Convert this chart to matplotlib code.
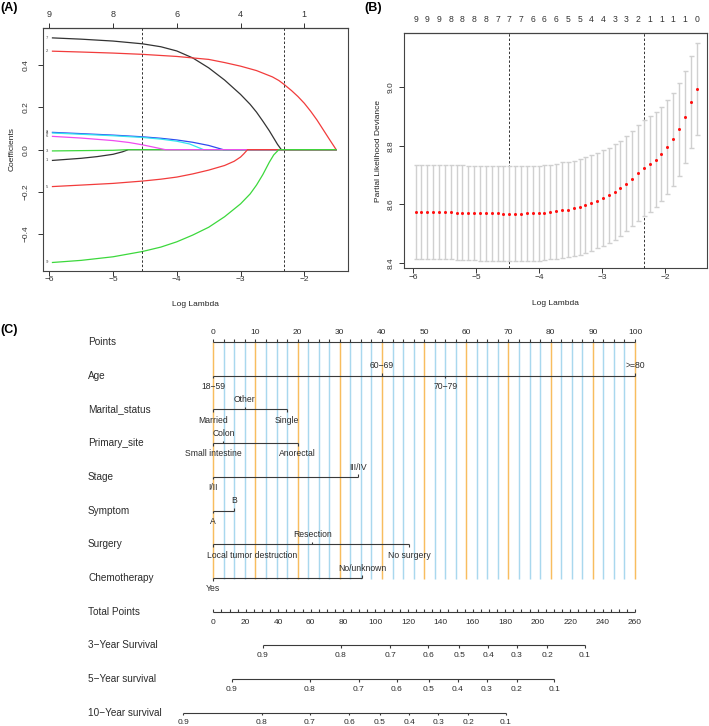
import numpy as np
import matplotlib.pyplot as plt

plt.rcParams['font.family'] = ['Liberation Sans', 'DejaVu Sans']

W, H = 709, 726

# ---------------- panel A: lasso coefficient paths ----------------
coef_7_x = [-5.95, -5.5, -5.0, -4.54, -4.25, -4.0, -3.75, -3.5, -3.25, -3.0, -2.85, -2.75,
            -2.65, -2.55, -2.47, -2.42, -2.36, -1.5]
coef_7_y = [0.530, 0.524, 0.515, 0.502, 0.488, 0.468, 0.435, 0.388, 0.330, 0.262, 0.215, 0.178,
            0.135, 0.090, 0.050, 0.025, 0.0, 0.0]
coef_2_x = [-5.95, -5.5, -5.0, -4.54, -4.0, -3.5, -3.25, -3.0, -2.75, -2.5, -2.4, -2.32, -2.2,
            -2.1, -2.0, -1.9, -1.8, -1.7, -1.6, -1.5]
coef_2_y = [0.467, 0.463, 0.458, 0.452, 0.442, 0.428, 0.413, 0.396, 0.375, 0.345, 0.328, 0.310,
            0.280, 0.252, 0.220, 0.182, 0.140, 0.093, 0.046, 0.0]
coef_8_x = [-5.95, -5.5, -5.0, -4.54, -4.25, -4.0, -3.75, -3.5, -3.27, -1.5]
coef_8_y = [0.082, 0.076, 0.069, 0.061, 0.054, 0.046, 0.035, 0.020, 0.0, 0.0]
coef_4_x = [-5.95, -5.5, -5.0, -4.54, -4.25, -4.0, -3.8, -3.58, -1.5]
coef_4_y = [0.079, 0.073, 0.066, 0.058, 0.050, 0.040, 0.027, 0.0, 0.0]
coef_1_x = [-5.95, -5.5, -5.25, -5.0, -4.85, -4.76, -1.5]
coef_1_y = [-0.051, -0.041, -0.033, -0.022, -0.010, 0.0, 0.0]
coef_3_x = [-5.95, -5.0, -4.76, -1.5]
coef_3_y = [-0.006, -0.003, 0.0, 0.0]
coef_6_x = [-5.95, -5.5, -5.0, -4.75, -4.54, -4.35, -4.18, -1.5]
coef_6_y = [0.063, 0.055, 0.043, 0.034, 0.023, 0.011, 0.0, 0.0]
coef_5_x = [-5.95, -5.5, -5.0, -4.54, -4.25, -4.0, -3.75, -3.5, -3.25, -3.1, -3.0, -2.95, -2.89, -1.5]
coef_5_y = [-0.175, -0.168, -0.160, -0.149, -0.140, -0.130, -0.115, -0.097, -0.075, -0.055,
            -0.035, -0.020, 0.0, 0.0]
coef_9_x = [-5.95, -5.5, -5.0, -4.54, -4.25, -4.0, -3.75, -3.5, -3.25, -3.0, -2.85, -2.75,
            -2.65, -2.55, -2.48, -2.40, -1.5]
coef_9_y = [-0.535, -0.525, -0.508, -0.483, -0.462, -0.437, -0.405, -0.368, -0.318, -0.257,
            -0.210, -0.168, -0.118, -0.060, -0.025, 0.0, 0.0]

A_top_ticks = [-6, -5, -4, -3, -2]
A_top_labels = ["9", "8", "6", "4", "1"]
lambda_min, lambda_1se = -4.54, -2.32

# ---------------- panel B: cross-validation curve ----------------
cv_mean = [8.575, 8.575, 8.574, 8.574, 8.574, 8.573,
           8.573, 8.572, 8.572, 8.571, 8.571,
           8.570, 8.570, 8.569, 8.569,
           8.568, 8.568, 8.568, 8.568, 8.569, 8.569,
           8.570, 8.572, 8.574, 8.577,
           8.580, 8.582, 8.586, 8.591, 8.598, 8.604, 8.613, 8.621, 8.631, 8.642,
           8.655, 8.671, 8.688, 8.707, 8.724, 8.738, 8.753, 8.772, 8.795, 8.822,
           8.856, 8.897, 8.948, 8.993]
cv_se = [0.161] * 11 + [0.162] * 14 + [0.163] * 16 + [0.161] * 3 + [0.159] * 2 + [0.157] * 3
cv_nzero = ["9", "9", "9", "8", "8", "8", "8", "7", "7", "7", "6", "6", "6",
            "5", "5", "4", "4", "3", "3", "2", "1", "1", "1", "1", "0"]
cv_loglam = np.linspace(-5.96, -1.50, len(cv_mean))   # glmnet lambda grid (even in log)
cv_min, cv_1se = -4.47, -2.33

# ---------------- panel C: nomogram ----------------
age_levels = ["18−59", "60−69", "70−79", ">=80"]
age_pts = [0, 40, 55, 100]
marital_levels = ["Married", "Other", "Single"]
marital_pts = [0, 7.5, 17.5]
site_levels = ["Small intestine", "Colon", "Anorectal"]
site_pts = [0, 2.4, 20]
stage_levels = ["I/II", "III/IV"]
stage_pts = [0, 34.4]
symptom_levels = ["A", "B"]
symptom_pts = [0, 5]
surgery_levels = ["Local tumor destruction", "Resection", "No surgery"]
surgery_pts = [0, 23.5, 46.5]
chemo_levels = ["Yes", "No/unknown"]
chemo_pts = [0, 35.3]

surv_probs = ["0.9", "0.8", "0.7", "0.6", "0.5", "0.4", "0.3", "0.2", "0.1"]
surv3_total = [30.5, 78.5, 109.0, 132.5, 151.7, 169.6, 187.1, 206.0, 229.2]
surv5_total = [11.3, 59.6, 89.8, 113.1, 132.8, 150.7, 168.6, 187.1, 210.1]
surv10_total = [-18.5, 29.8, 59.6, 83.9, 102.8, 120.8, 138.7, 157.2, 180.5]

row_names = ["Points", "Age", "Marital_status", "Primary_site", "Stage", "Symptom",
             "Surgery", "Chemotherapy", "Total Points", "3−Year Survival",
             "5−Year survival", "10−Year survival"]
MAX_TOTAL = 260

ORANGE = "#F8BD5E"
LBLUE = "#A9D8EE"
INK = "#2b2b2b"


def frac(x0, y0, x1, y1):
    """pixel box (top-left origin) -> figure fraction rect"""
    return [x0 / W, 1 - y1 / H, (x1 - x0) / W, (y1 - y0) / H]


def r_style(ax, ypad):
    for s in ax.spines.values():
        s.set_linewidth(0.8)
        s.set_color("#444444")
    ax.tick_params(axis="x", direction="out", length=3.3, width=0.7, pad=0.5,
                   labelsize=6, colors="#333333")
    ax.tick_params(axis="y", direction="out", length=3.3, width=0.7, pad=ypad,
                   labelsize=6, colors="#333333")
    for lab in ax.get_yticklabels():
        lab.set_rotation(90)
        lab.set_va("center")


fig = plt.figure(figsize=(W / 100, H / 100), dpi=100)
fig.patch.set_facecolor("white")

# ---- nomogram axes in pixel-like coordinates ----
X0_PX, PX_PER_PT = 213.3, 4.217
axc = fig.add_axes([0, 0, 1, 1], zorder=0)
axc.set_xlim(-X0_PX / PX_PER_PT, (W - X0_PX) / PX_PER_PT)
axc.set_ylim(H, 0)
axc.axis("off")

ROW_Y0, ROW_DY = 342.0, 33.7


def row_y(i):
    return ROW_Y0 + ROW_DY * i


for v in np.arange(0, 100.01, 2.5):
    col = ORANGE if v % 10 == 0 else LBLUE
    axc.plot([v, v], [row_y(0), row_y(7) + 1.5], color=col, lw=1.05, zorder=1,
             solid_capstyle="butt")

for i, name in enumerate(row_names):
    axc.text(-29.7, row_y(i), name, fontsize=7.2, ha="left", va="center", color=INK)

line_kw = dict(color="#3a3a3a", lw=0.8, zorder=3, solid_capstyle="butt")
TICK = 2.6
TXT = 6.2

# points axis
y = row_y(0)
axc.plot([0, 100], [y, y], **line_kw)
for v in np.arange(0, 100.01, 2.5):
    axc.plot([v, v], [y, y - TICK], **line_kw)
for v in range(0, 101, 10):
    axc.text(v, y - 9.5, str(v), fontsize=6, ha="center", va="center", color=INK)

# categorical predictors
special_align = {"Local tumor destruction": ("left", -1.6)}


def category_row(i, levels, pts):
    y = row_y(i)
    axc.plot([min(pts), max(pts)], [y, y], **line_kw)
    order = np.argsort(pts)
    for k, idx in enumerate(order):
        up = k % 2 == 1
        x = pts[idx]
        axc.plot([x, x], [y, y - TICK if up else y + TICK], **line_kw)
        ha, xt = special_align.get(levels[idx], ("center", x))
        axc.text(xt, y - 9.8 if up else y + 10.8, levels[idx], fontsize=TXT,
                 ha=ha, va="center", color=INK, zorder=4)


category_row(1, age_levels, age_pts)
category_row(2, marital_levels, marital_pts)
category_row(3, site_levels, site_pts)
category_row(4, stage_levels, stage_pts)
category_row(5, symptom_levels, symptom_pts)
category_row(6, surgery_levels, surgery_pts)
category_row(7, chemo_levels, chemo_pts)

# total points axis
scale = 100 / MAX_TOTAL
y = row_y(8)
axc.plot([0, 100], [y, y], **line_kw)
for v in range(0, MAX_TOTAL + 1, 5):
    axc.plot([v * scale] * 2, [y, y - TICK], **line_kw)
for v in range(0, MAX_TOTAL + 1, 20):
    axc.text(v * scale, y + 10.6, str(v), fontsize=6, ha="center", va="center", color=INK)

# survival axes
for i, totals in zip([9, 10, 11], [surv3_total, surv5_total, surv10_total]):
    y = row_y(i)
    xs = [t * scale for t in totals]
    axc.plot([min(xs), max(xs)], [y, y], **line_kw)
    for x, lab in zip(xs, surv_probs):
        axc.plot([x, x], [y, y + TICK], **line_kw)
        axc.text(x, y + 10.3, lab, fontsize=6, ha="center", va="center", color=INK)

# ---- panel A ----
axa = fig.add_axes(frac(43.3, 28.3, 348.3, 270.7), zorder=2)
paths = [
    (coef_7_x, coef_7_y, "#333333", "7"),
    (coef_2_x, coef_2_y, "#F23C3C", "2"),
    (coef_8_x, coef_8_y, "#2F4BF0", "8"),
    (coef_4_x, coef_4_y, "#33E5F0", "4"),
    (coef_1_x, coef_1_y, "#333333", "1"),
    (coef_3_x, coef_3_y, "#3CD83C", "3"),
    (coef_6_x, coef_6_y, "#F04CF0", "6"),
    (coef_5_x, coef_5_y, "#F23C3C", "5"),
    (coef_9_x, coef_9_y, "#3CD83C", "9"),
]
for xs, ys, col, lab in paths:
    axa.plot(xs, ys, color=col, lw=0.9, solid_joinstyle="round")
    axa.text(-6.04, ys[0], lab, fontsize=3, ha="center", va="center", color="#444444")
for v in (lambda_min, lambda_1se):
    axa.axvline(v, color="#333333", lw=0.7, ls=(0, (2.5, 2)))
axa.set_xlim(-6.094, -1.31)
axa.set_ylim(-0.574, 0.5755)
axa.set_xticks([-6, -5, -4, -3, -2])
axa.set_yticks([-0.4, -0.2, 0.0, 0.2, 0.4])
axa.set_yticklabels(["−0.4", "−0.2", "0.0", "0.2", "0.4"])
axa.set_xticklabels(["−6", "−5", "−4", "−3", "−2"])
r_style(axa, ypad=6.5)
axa.set_xlabel("Log Lambda", fontsize=6, labelpad=13, color="#222222")
axa.set_ylabel("Coefficients", fontsize=6, labelpad=5, color="#222222")
topa = axa.secondary_xaxis("top")
topa.set_xticks(A_top_ticks)
topa.set_xticklabels(A_top_labels)
topa.tick_params(direction="out", length=3.3, width=0.7, pad=3.5, labelsize=6.5, colors="#333333")
topa.spines["top"].set_linewidth(0.8)

# ---- panel B ----
axb = fig.add_axes(frac(404.3, 33.3, 707.3, 268.5), zorder=2)
axb.errorbar(cv_loglam, cv_mean, yerr=cv_se, fmt="none", ecolor="#d0d0d0",
             elinewidth=1.0, capsize=1.8, capthick=1.0, zorder=2)
axb.plot(cv_loglam, cv_mean, "o", color="#FF1010", markersize=2.2, mec="none", zorder=3)
for v in (cv_min, cv_1se):
    axb.axvline(v, color="#333333", lw=0.7, ls=(0, (2.5, 2)), zorder=1)
axb.set_xlim(-6.14, -1.33)
axb.set_ylim(8.381, 9.184)
axb.set_xticks([-6, -5, -4, -3, -2])
axb.set_xticklabels(["−6", "−5", "−4", "−3", "−2"])
axb.set_yticks([8.4, 8.6, 8.8, 9.0])
r_style(axb, ypad=3.5)
axb.set_xlabel("Log Lambda", fontsize=6, labelpad=14, color="#222222")
axb.set_ylabel("Partial Likelihood Deviance", fontsize=6, labelpad=4, color="#222222")
topb = axb.secondary_xaxis("top")
topb.set_xticks(cv_loglam[::2])
topb.set_xticklabels(cv_nzero)
topb.tick_params(length=0, pad=6.5, labelsize=6.2, colors="#333333")

# ---- panel tags ----
for txt, x, y in [("(A)", 0, 8), ("(B)", 364, 8), ("(C)", 0, 330)]:
    fig.text(x / W, 1 - y / H, txt, fontsize=9, fontweight="bold", ha="left", va="center")

fig.savefig("out.png", dpi=100, facecolor="white")
